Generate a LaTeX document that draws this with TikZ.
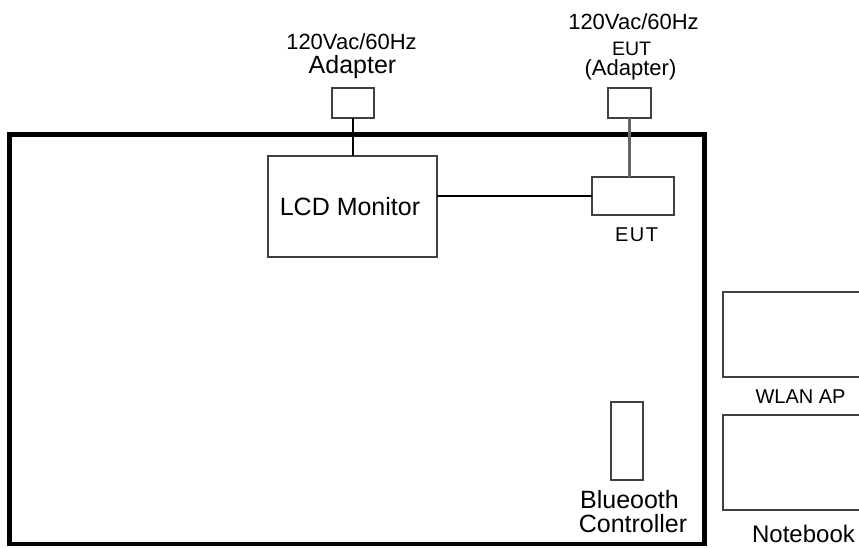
\documentclass[tikz,border=0pt]{standalone}
\usepackage{fontspec}
\setmainfont{Liberation Sans}
\begin{document}
\begin{tikzpicture}[x=1pt,y=-1pt,
  box/.style={draw=black!75,line width=1.6pt,inner sep=0pt,outer sep=0pt},
  frame/.style={draw=black,line width=4.5pt,inner sep=0pt,outer sep=0pt},
  wire/.style={draw=black,line width=1.5pt},
  greywire/.style={draw=black!60,line width=2.2pt},
  lbl/.style={anchor=base,inner sep=0pt,outer sep=0pt,text=black},
  fa/.style={font=\fontsize{22}{26}\selectfont},
  fb/.style={font=\fontsize{25}{30}\selectfont},
  fc/.style={font=\fontsize{19.5}{23}\selectfont},
  fd/.style={font=\fontsize{20}{24}\selectfont},
  fe/.style={font=\fontsize{24}{28}\selectfont}]
\clip (0,0) rectangle (859,547);
\fill[white] (0,0) rectangle (859,547);
% main frame
\node[frame,minimum width=695pt,minimum height=409.5pt] (frame) at (357,339.25) {};
% boxes
\node[box,minimum width=42pt,minimum height=30pt] (ad1) at (353,103) {};
\node[box,minimum width=43pt,minimum height=30pt] (ad2) at (629.5,103) {};
\node[box,minimum width=169pt,minimum height=101pt] (lcd) at (352.5,206.5) {};
\node[box,minimum width=82pt,minimum height=38pt] (eut) at (633,196) {};
\node[box,minimum width=32pt,minimum height=78pt] (bt) at (627,441) {};
\node[box,minimum width=142pt,minimum height=85pt] (wlan) at (794,334.5) {};
\node[box,minimum width=142pt,minimum height=95pt] (nb) at (794,462.5) {};
% connectors
\draw[wire] (ad1.south) -- (ad1.south |- lcd.north);
\draw[greywire] (ad2.south) -- (ad2.south |- eut.north);
\draw[wire] (eut.west) -- (eut.west -| lcd.east);
% labels
\node[lbl,fa] (t1) at (351.5,49) {120Vac/60Hz};
\node[lbl,fb] (t2) at (352.5,73) {Adapter};
\node[lbl,fa] (t3) at (633.5,29) {120Vac/60Hz};
\node[lbl,fc] (t4) at (631.5,55) {EUT};
\node[lbl,fa] (t5) at (630.5,75) {(Adapter)};
\node[lbl,fb] (t6) at (350,215) {LCD Monitor};
\node[lbl,fd] (t7) at (636.5,241) {E\kern1.5pt U\kern1.5pt T};
\node[lbl,fd] (t8) at (800.5,403) {WLAN AP};
\node[lbl,fe] (t9) at (803.5,542) {Notebook};
\node[lbl,fb] (t10) at (629.5,508) {Blueooth};
\node[lbl,fb] (t11) at (633,532) {Controller};
\end{tikzpicture}
\end{document}
